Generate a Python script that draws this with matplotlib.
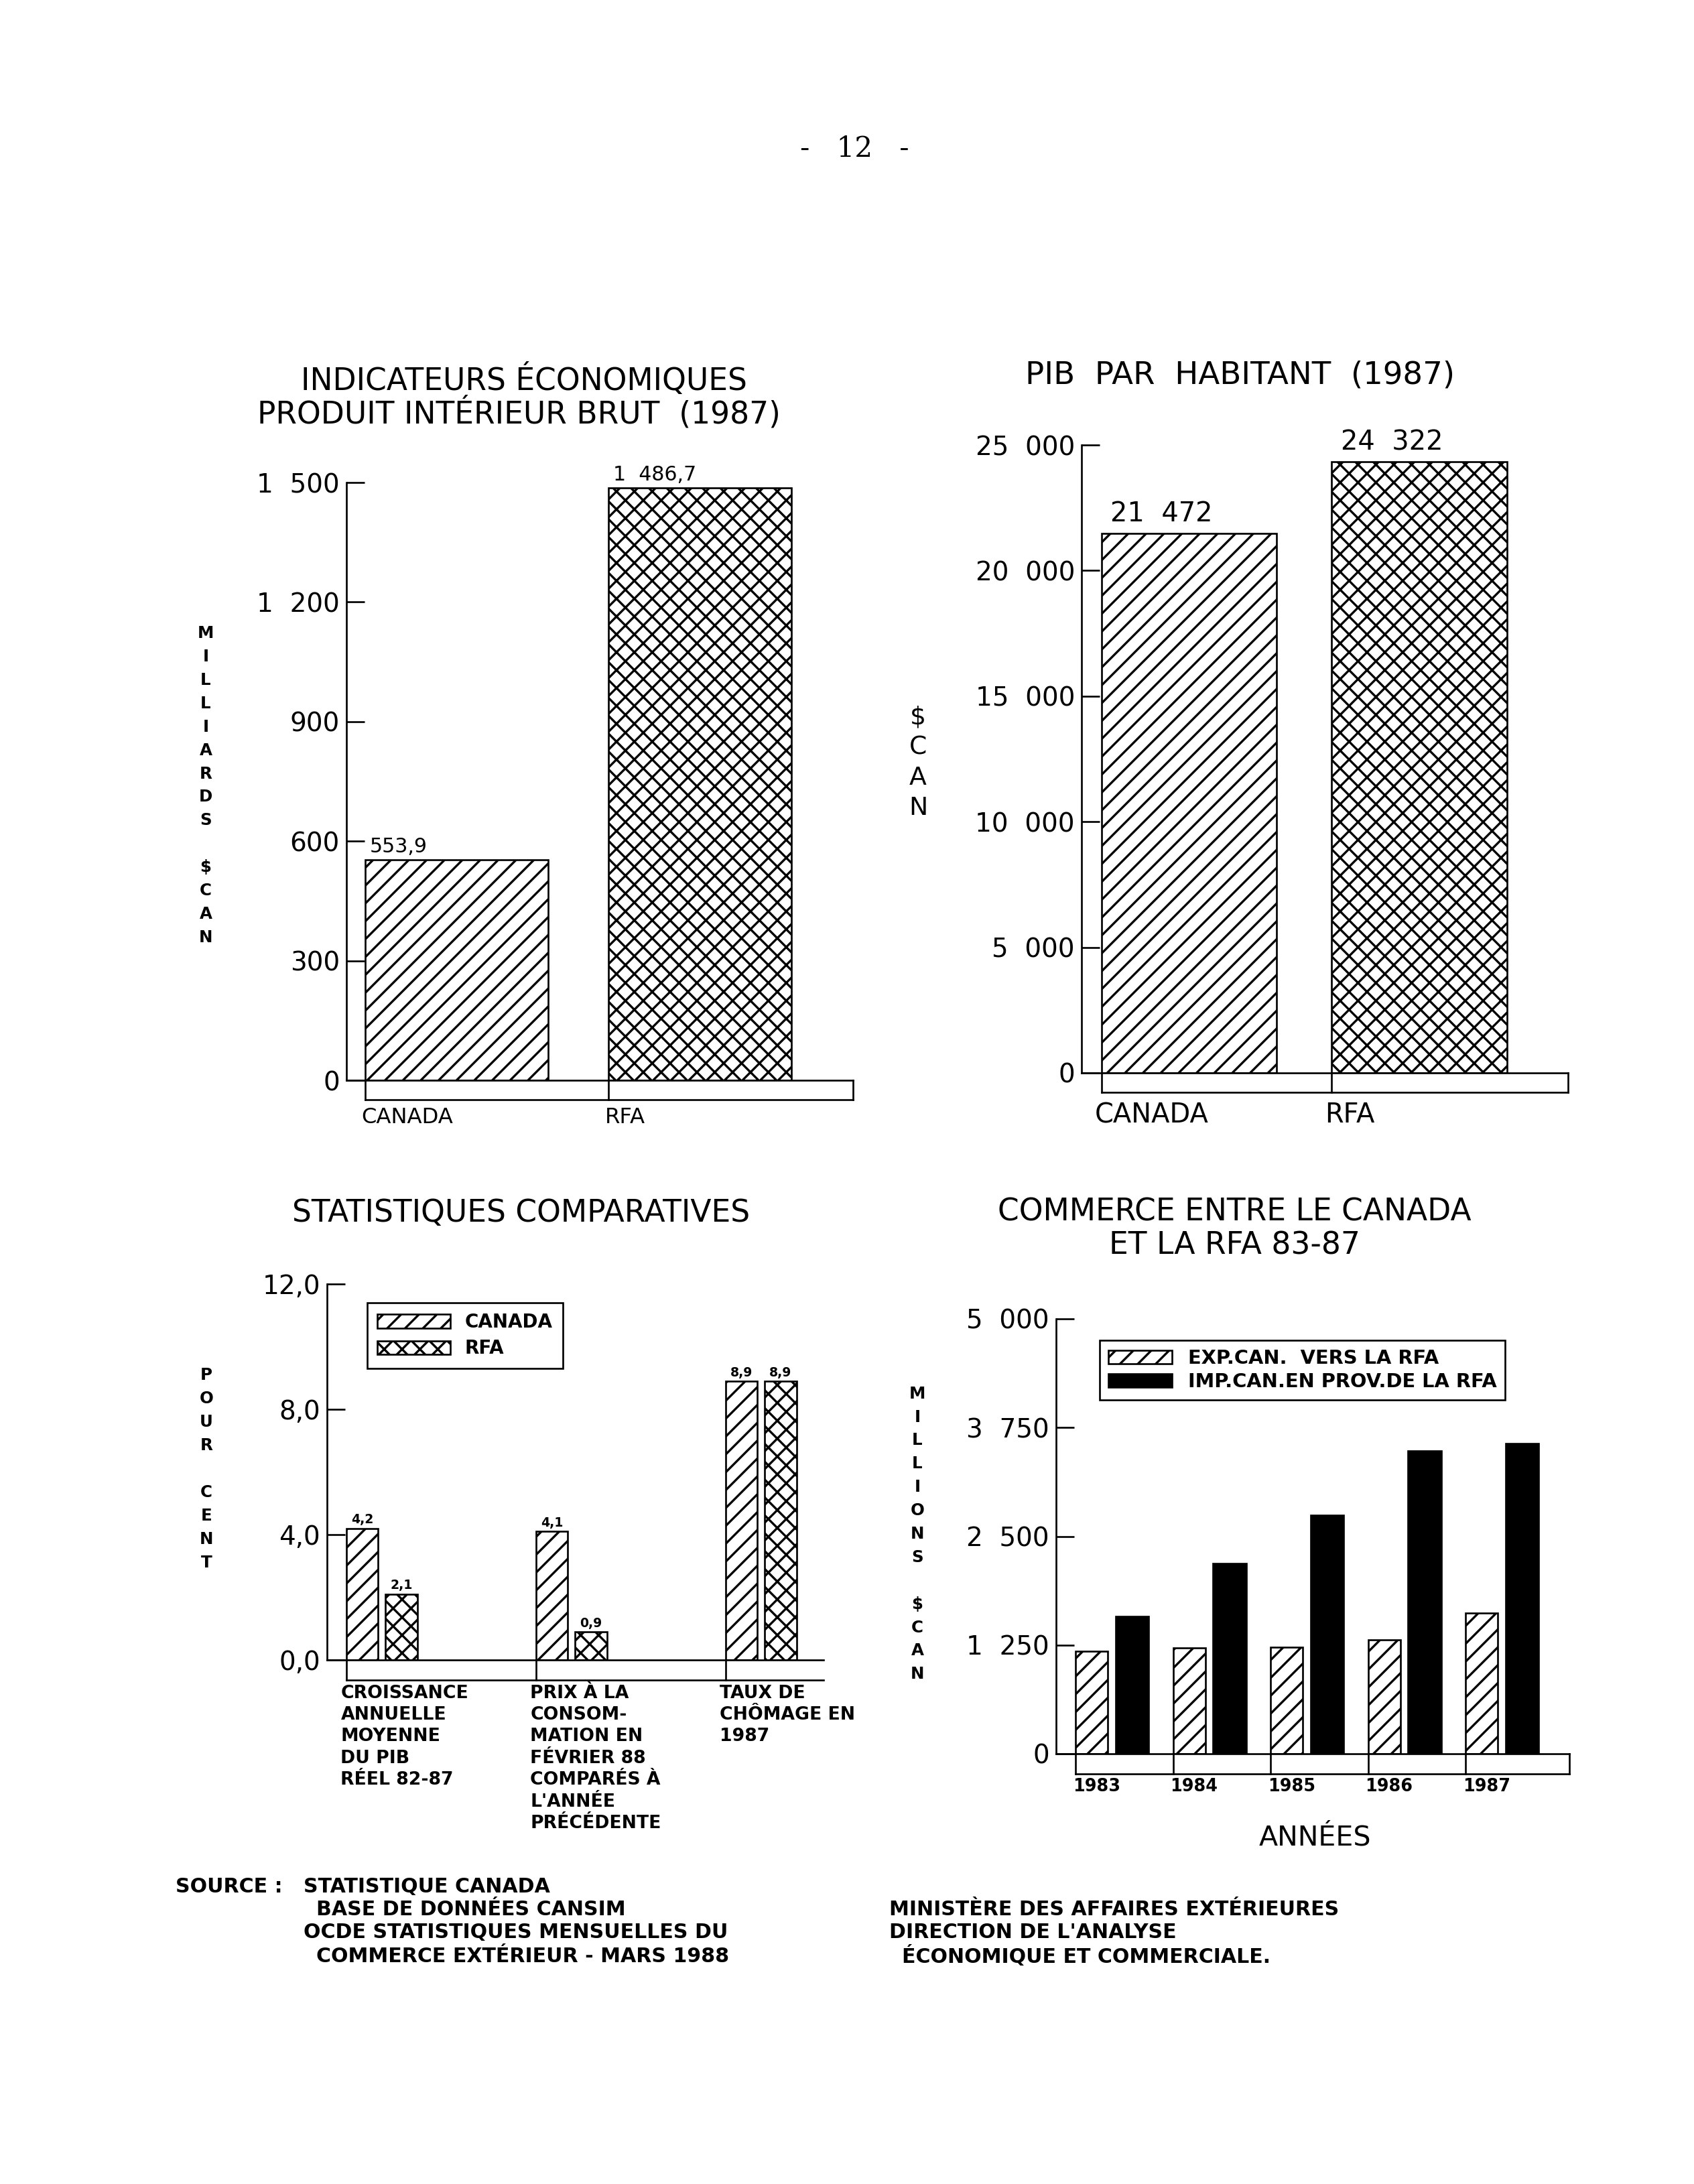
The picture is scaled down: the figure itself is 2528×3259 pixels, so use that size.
import matplotlib
matplotlib.use("Agg")
import matplotlib.pyplot as plt

W, H = 2528, 3259
DPI = 160
LW = 1.2

plt.rcParams["font.family"] = ["DejaVu Sans"]
plt.rcParams["hatch.linewidth"] = 1.5
plt.rcParams["axes.linewidth"] = LW

# ---- data ----
pays = ["CANADA", "RFA"]
pib_total = [553.9, 1486.7]
pib_total_txt = ["553,9", "1\u2007486,7"]
pib_total_ticks = [0, 300, 600, 900, 1200, 1500]
pib_total_lbl = ["0", "300", "600", "900", "1\u2007200", "1\u2007500"]

pib_hab = [21472, 24322]
pib_hab_txt = ["21\u2007472", "24\u2007322"]
pib_hab_ticks = [0, 5000, 10000, 15000, 20000, 25000]
pib_hab_lbl = ["0", "5\u2007000", "10\u2007000", "15\u2007000", "20\u2007000", "25\u2007000"]

stat_cats = ["CROISSANCE\nANNUELLE\nMOYENNE\nDU PIB\nRÉEL 82-87",
             "PRIX À LA\nCONSOM-\nMATION EN\nFÉVRIER 88\nCOMPARÉS À\nL'ANNÉE\nPRÉCÉDENTE",
             "TAUX DE\nCHÔMAGE EN\n1987"]
stat_canada = [4.2, 4.1, 8.9]
stat_rfa = [2.1, 0.9, 8.9]
stat_ticks = [0, 4, 8, 12]
stat_lbl = ["0,0", "4,0", "8,0", "12,0"]

annees = ["1983", "1984", "1985", "1986", "1987"]
exp_can = [1175, 1220, 1228, 1310, 1620]
imp_can = [1577, 2185, 2740, 3480, 3570]
com_ticks = [0, 1250, 2500, 3750, 5000]
com_lbl = ["0", "1\u2007250", "2\u2007500", "3\u2007750", "5\u2007000"]

HATCH_CAN = "//"
HATCH_RFA = "xx"

fig = plt.figure(figsize=(W / DPI, H / DPI), dpi=DPI)


def fr(v):
    return f"{v:.1f}".replace(".", ",")


def txt(x, y, s, **kw):
    fig.text(x / W, 1 - y / H, s, **kw)


def axes_px(left, top, right, bottom, labelsize=17.5):
    ax = fig.add_axes([left / W, 1 - bottom / H, (right - left) / W, (bottom - top) / H])
    for s in ("top", "right"):
        ax.spines[s].set_visible(False)
    ax.tick_params(axis="y", direction="in", length=12, width=LW, pad=4.5, labelsize=labelsize)
    ax.tick_params(axis="x", length=0, labelbottom=False)
    return ax, bottom - top


def socle(ax, h_px, ticks, xmax, closed=True, depth=29):
    d = depth / h_px
    tr = ax.get_xaxis_transform()
    kw = dict(transform=tr, clip_on=False, color="k", lw=LW, solid_capstyle="projecting")
    ax.plot([ticks[0], xmax], [-d, -d], **kw)
    for t in ticks:
        ax.plot([t, t], [0, -d], **kw)
    if closed:
        ax.plot([xmax, xmax], [0, -d], **kw)
    return d


def vlabel(x, y, s, size, spacing, weight="bold"):
    em = size * DPI / 72
    ls = (spacing / em - 0.236) / 0.76
    txt(x, y, "\n".join(s), ha="center", va="center", fontsize=size,
        weight=weight, linespacing=ls)


def two_bars(ax, x, vals, width):
    # canada diagonal, rfa crosshatch
    ax.bar(x[0], vals[0], width=width, align="edge", color="white", edgecolor="k",
           lw=LW, hatch=HATCH_CAN)
    ax.bar(x[1], vals[1], width=width, align="edge", color="white", edgecolor="k",
           lw=LW, hatch=HATCH_RFA)


# ---- page number ----
txt(1275, 222, "-   12   -", ha="center", va="center", fontsize=19, family="DejaVu Serif")

# ---- chart 1 : PIB total ----
txt(782, 567, "INDICATEURS ÉCONOMIQUES", ha="center", va="center", fontsize=20.5)
txt(774, 617, "PRODUIT INTÉRIEUR BRUT  (1987)", ha="center", va="center", fontsize=20.5)
ax1, h1 = axes_px(517, 720, 1273, 1612)
x1 = [0, 1]
two_bars(ax1, x1, pib_total, 0.752)
ax1.set_xlim(-0.077, 2.005)
ax1.set_ylim(0, 1500)
ax1.set_yticks(pib_total_ticks, pib_total_lbl)
d = socle(ax1, h1, x1, 2.005)
for xi, v, s in zip(x1, pib_total, pib_total_txt):
    ax1.annotate(s, (xi, v), xytext=(3, 2), textcoords="offset points",
                 ha="left", va="bottom", fontsize=13.5)
for xi, s in zip(x1, pays):
    ax1.text(xi - 0.015, -d - 0.012, s, transform=ax1.get_xaxis_transform(),
             ha="left", va="top", fontsize=14.5)
vlabel(307, 1172, "MILLIARDS $CAN", 11, 35)

# ---- chart 2 : PIB par habitant ----
txt(1850, 560, "PIB  PAR  HABITANT  (1987)", ha="center", va="center", fontsize=21)
ax2, h2 = axes_px(1614, 664, 2340, 1601)
two_bars(ax2, x1, pib_hab, 0.76)
ax2.set_xlim(-0.087, 2.026)
ax2.set_ylim(0, 25000)
ax2.set_yticks(pib_hab_ticks, pib_hab_lbl)
d = socle(ax2, h2, x1, 2.026)
for xi, v, s in zip(x1, pib_hab, pib_hab_txt):
    ax2.annotate(s, (xi, v), xytext=(6, 4), textcoords="offset points",
                 ha="left", va="bottom", fontsize=18)
for xi, s in zip(x1, pays):
    ax2.text(xi - 0.03, -d - 0.015, s, transform=ax2.get_xaxis_transform(),
             ha="left", va="top", fontsize=18)
vlabel(1370, 1138, "$CAN", 17, 47, weight="normal")

# ---- chart 3 : statistiques comparatives ----
txt(778, 1811, "STATISTIQUES COMPARATIVES", ha="center", va="center", fontsize=20.5)
ax3, h3 = axes_px(488, 1916, 1229, 2477)
x3 = [0, 1, 2]
bc = ax3.bar(x3, stat_canada, width=0.166, align="edge", color="white", edgecolor="k",
             lw=LW, hatch=HATCH_CAN, label="CANADA")
br = ax3.bar([x + 0.205 for x in x3], stat_rfa, width=0.17, align="edge", color="white",
             edgecolor="k", lw=LW, hatch=HATCH_RFA, label="RFA")
ax3.set_xlim(-0.102, 2.516)
ax3.set_ylim(0, 12)
ax3.set_yticks(stat_ticks, stat_lbl)
d = socle(ax3, h3, x3, 2.516, closed=False, depth=30)
for bars in (bc, br):
    for r in bars:
        ax3.annotate(fr(r.get_height()), (r.get_x() + r.get_width() / 2, r.get_height()),
                     xytext=(0, 1.5), textcoords="offset points", ha="center", va="bottom",
                     fontsize=8.5, weight="bold")
for xi, s in zip(x3, stat_cats):
    ax3.text(xi - 0.03, -d - 0.012, s, transform=ax3.get_xaxis_transform(),
             ha="left", va="top", fontsize=12, weight="bold",
             linespacing=(33 / (12 * DPI / 72) - 0.236) / 0.76)
ax3.legend(loc="upper left", bbox_to_anchor=(0.081, 0.95), fancybox=False,
           edgecolor="k", framealpha=1, prop=dict(size=12.5, weight="bold"),
           handlelength=3.9, handleheight=0.75, handletextpad=0.8, labelspacing=0.4,
           borderpad=0.55, borderaxespad=0).get_frame().set_linewidth(LW)
vlabel(308, 2192, "POUR CENT", 11, 35)

# ---- chart 4 : commerce ----
txt(1842, 1809, "COMMERCE ENTRE LE CANADA", ha="center", va="center", fontsize=20.5)
txt(1842, 1859, "ET LA RFA 83-87", ha="center", va="center", fontsize=20.5)
ax4, h4 = axes_px(1576, 1968, 2342, 2617)
x4 = list(range(len(annees)))
ax4.bar(x4, exp_can, width=0.33, align="edge", color="white", edgecolor="k", lw=LW,
        hatch=HATCH_CAN, label="EXP.CAN.  VERS LA RFA")
ax4.bar([x + 0.41 for x in x4], imp_can, width=0.34, align="edge", color="k",
        edgecolor="k", lw=LW, label="IMP.CAN.EN PROV.DE LA RFA")
ax4.set_xlim(-0.2, 5.065)
ax4.set_ylim(0, 5000)
ax4.set_yticks(com_ticks, com_lbl)
d = socle(ax4, h4, x4, 5.065, depth=30)
for xi, s in zip(x4, annees):
    ax4.text(xi - 0.03, -d - 0.01, s, transform=ax4.get_xaxis_transform(),
             ha="left", va="top", fontsize=11.5, weight="bold")
ax4.legend(loc="upper left", bbox_to_anchor=(0.085, 0.951), fancybox=False,
           edgecolor="k", framealpha=1, prop=dict(size=13, weight="bold"),
           handlelength=3.3, handleheight=0.7, handletextpad=0.8, labelspacing=0.25,
           borderpad=0.45, borderaxespad=0).get_frame().set_linewidth(LW)
txt(1962, 2742, "ANNÉES", ha="center", va="center", fontsize=18.5)
vlabel(1369, 2289, "MILLIONS $CAN", 11, 35)

# ---- footer ----
fs = dict(fontsize=13.5, weight="bold", ha="left", va="center")
txt(262, 2815, "SOURCE :", **fs)
txt(453, 2815, "STATISTIQUE CANADA", **fs)
txt(472, 2849, "BASE DE DONNÉES CANSIM", **fs)
txt(453, 2884, "OCDE STATISTIQUES MENSUELLES DU", **fs)
txt(472, 2919, "COMMERCE EXTÉRIEUR - MARS 1988", **fs)
txt(1327, 2849, "MINISTÈRE DES AFFAIRES EXTÉRIEURES", **fs)
txt(1327, 2884, "DIRECTION DE L'ANALYSE", **fs)
txt(1346, 2919, "ÉCONOMIQUE ET COMMERCIALE.", **fs)

fig.savefig("out.png", dpi=DPI, facecolor="white")
